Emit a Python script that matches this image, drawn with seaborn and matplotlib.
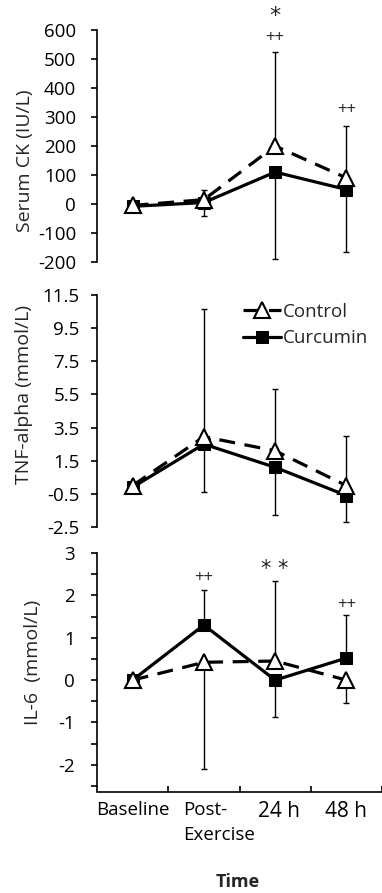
import numpy as np
import pandas as pd
import matplotlib
matplotlib.use("Agg")
import matplotlib.pyplot as plt
import matplotlib.transforms as mtransforms
import seaborn as sns

sns.set_theme(style="white")
plt.rcParams["font.family"] = ["Open Sans", "DejaVu Sans"]
plt.rcParams["axes.unicode_minus"] = False

# data
time_labels = ["Baseline", "Post-\nExercise", "24 h", "48 h"]
groups = ["Control", "Curcumin"]

ck_control = [-5, 15, 200, 90]
ck_curcumin = [-8, 5, 110, 50]
ck_control_up = [0, 35, 325, 180]
ck_control_down = [0, 0, 0, 0]
ck_curcumin_up = [0, 0, 0, 0]
ck_curcumin_down = [0, 45, 300, 215]

tnf_control = [0.0, 2.95, 2.1, 0.0]
tnf_curcumin = [-0.1, 2.5, 1.1, -0.6]
tnf_control_up = [0, 7.7, 3.75, 3.0]
tnf_control_down = [0, 0, 0, 0]
tnf_curcumin_up = [0, 0, 0, 0]
tnf_curcumin_down = [0, 2.9, 2.9, 1.6]

il6_control = [0.0, 0.42, 0.45, 0.0]
il6_curcumin = [0.0, 1.3, 0.0, 0.52]
il6_control_up = [0, 0, 1.9, 0]
il6_control_down = [0, 2.52, 0, 0.53]
il6_curcumin_up = [0, 0.82, 0, 1.02]
il6_curcumin_down = [0, 0, 0.88, 0]

xpos = np.arange(len(time_labels)) + 0.5

W, H = 382, 893
fig = plt.figure(figsize=(W / 100, H / 100), dpi=100)
TICK_FS = 13.5


def box(top, bottom, left=97, right=382):
    return [left / W, 1 - bottom / H, (right - left) / W, (bottom - top) / H]


def draw(ax, control, curcumin, c_up, c_down, k_up, k_down, pad):
    for vals, up, down in [(curcumin, k_up, k_down), (control, c_up, c_down)]:
        ax.errorbar(xpos, vals, yerr=[down, up], fmt="none", ecolor="black",
                    elinewidth=1, capsize=2.5, capthick=1, zorder=2)
    df_k = pd.DataFrame({"time": xpos, "value": curcumin})
    df_c = pd.DataFrame({"time": xpos, "value": control})
    sns.lineplot(data=df_k, x="time", y="value", ax=ax, color="black", lw=2.3,
                 marker="s", markersize=9, markeredgecolor="black",
                 markerfacecolor="black", label="Curcumin", legend=False, zorder=3)
    sns.lineplot(data=df_c, x="time", y="value", ax=ax, color="black", lw=2.3,
                 linestyle=(0, (5, 3)), marker="^", markersize=11,
                 markeredgecolor="black", markeredgewidth=1.5,
                 markerfacecolor="white", label="Control", legend=False, zorder=4)
    ax.set_xlim(0, 4)
    ax.set_xlabel("")
    ax.set_ylabel("")
    for s in ["top", "right", "bottom"]:
        ax.spines[s].set_visible(False)
    ax.spines["left"].set_color("black")
    ax.spines["left"].set_linewidth(1.2)
    ax.tick_params(axis="y", direction="out", length=4, width=1.2, color="black",
                   left=True, labelsize=TICK_FS, pad=pad, labelcolor="black")
    ax.tick_params(axis="x", bottom=False, labelbottom=False)
    ax.set_facecolor("none")


ax1 = fig.add_axes(box(30, 262))
draw(ax1, ck_control, ck_curcumin, ck_control_up, ck_control_down,
     ck_curcumin_up, ck_curcumin_down, pad=11)
ax1.set_ylim(-200, 600)
ax1.set_yticks(np.arange(-200, 601, 100))
ax1.text(2.5, 648, "*", ha="center", va="center", fontsize=16,
         family="DejaVu Sans", clip_on=False)
ax1.text(2.5, 572, "++", ha="center", va="center", fontsize=12, clip_on=False)
ax1.text(3.5, 324, "++", ha="center", va="center", fontsize=12)

ax2 = fig.add_axes(box(295, 527))
draw(ax2, tnf_control, tnf_curcumin, tnf_control_up, tnf_control_down,
     tnf_curcumin_up, tnf_curcumin_down, pad=8.5)
ax2.set_ylim(-2.5, 11.5)
ax2.set_yticks(np.arange(-2.5, 11.6, 2))
ax2.set_yticklabels([f"{v:g}" for v in np.arange(-2.5, 11.6, 2)])
h, l = ax2.get_legend_handles_labels()
order = [l.index("Control"), l.index("Curcumin")]
fig.legend([h[i] for i in order], [l[i] for i in order],
           loc="upper left", bbox_to_anchor=(243 / W, 1 - 303 / H),
           frameon=False, fontsize=13.5, handlelength=2.0, handletextpad=0.12,
           labelspacing=0.45, borderpad=0, borderaxespad=0)

ax3 = fig.add_axes(box(553, 786))
draw(ax3, il6_control, il6_curcumin, il6_control_up, il6_control_down,
     il6_curcumin_up, il6_curcumin_down, pad=12)
ax3.set_ylim(-2.5, 3)
ax3.set_yticks(np.arange(-2.5, 3.01, 0.5))
ax3.set_yticklabels([f"{v:g}" if float(v).is_integer() else ""
                     for v in np.arange(-2.5, 3.01, 0.5)])
ax3.spines["bottom"].set_visible(True)
ax3.spines["bottom"].set_color("black")
ax3.spines["bottom"].set_linewidth(1.2)
ax3.spines["bottom"].set_position(("outward", 4))
ax3.set_xticks(np.arange(0, 5))
ax3.set_xticklabels([])
ax3.set_xticks(xpos, minor=True)
ax3.set_xticklabels(time_labels, minor=True, fontsize=13.5, color="black")
ax3.tick_params(axis="x", which="major", bottom=True, direction="in", length=4,
                width=1.2, color="black")
ax3.tick_params(axis="x", which="minor", bottom=True, length=0, pad=7,
                labelbottom=True)
for t in ax3.get_xticklabels(minor=True):
    shift = 0
    if t.get_text() in ("24 h", "48 h"):
        t.set_fontsize(15)
        shift = 0.04 if t.get_text() == "24 h" else 0
    if t.get_text().startswith("Post"):
        shift = 0.15
    if shift:
        t.set_transform(t.get_transform() + mtransforms.ScaledTranslation(
            shift, 0, fig.dpi_scale_trans))
    t.set_verticalalignment("top")
    t.set_multialignment("left")
    t.set_linespacing(1.5)
ax3.text(1.5, 2.41, "++", ha="center", va="center", fontsize=12)
ax3.text(2.5, 2.62, "* *", ha="center", va="center", fontsize=15,
         family="DejaVu Sans")
ax3.text(3.5, 1.77, "++", ha="center", va="center", fontsize=12)

fig.text(25 / W, 1 - 161 / H, "Serum CK (IU/L)", rotation=90, ha="center",
         va="center", fontsize=14)
fig.text(24 / W, 1 - 395 / H, "TNF-alpha (mmol/L)", rotation=90, ha="center",
         va="center", fontsize=14)
fig.text(33 / W, 1 - 662 / H, "IL-6  (mmol/L)", rotation=90, ha="center",
         va="center", fontsize=14)
fig.text(238 / W, 1 - 882 / H, "Time", ha="center", va="center", fontsize=13,
         fontweight="bold")

fig.savefig("out.png", dpi=100, facecolor="white")
